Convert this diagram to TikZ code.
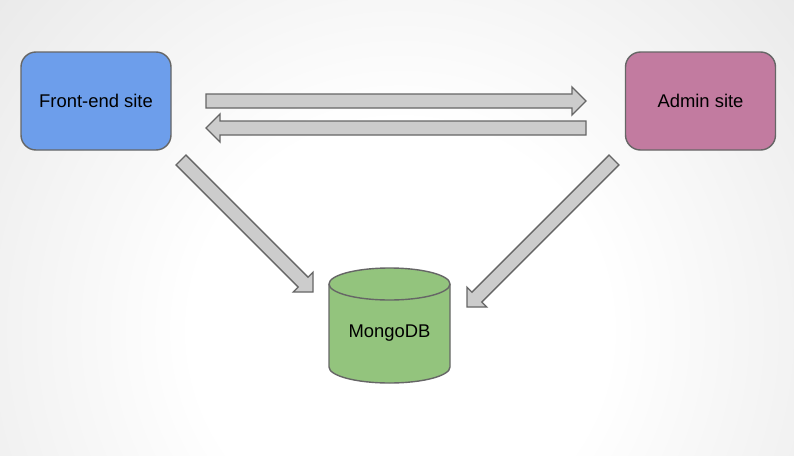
\documentclass[tikz,border=0pt]{standalone}
\usepackage{fontspec}
\setmainfont{Liberation Sans}
\usetikzlibrary{calc}
\definecolor{feblue}{HTML}{6D9EEB}
\definecolor{adpink}{HTML}{C27BA0}
\definecolor{dbgreen}{HTML}{93C47D}
\definecolor{arrfill}{HTML}{CCCCCC}
\definecolor{edge}{HTML}{666666}
\pgfdeclareradialshading{bgshade}{\pgfpoint{0bp}{0bp}}{color(0bp)=(white); color(10bp)=(white); color(50bp)=(black!22); color(60bp)=(black!24)}
\newcommand\fatarrow[2]{%
  \path ($(#2)!14pt!(#1)$) coordinate (hb);
  \draw[fatarr] ($(#1)!7pt!90:(#2)$) -- ($(hb)!7pt!-90:(#1)$) -- ($(hb)!14pt!-90:(#1)$) -- (#2)
    -- ($(hb)!14pt!90:(#1)$) -- ($(hb)!7pt!90:(#1)$) -- ($(#1)!7pt!-90:(#2)$) -- cycle;}
\tikzset{
  box/.style={draw=edge, line width=1.4pt, rounded corners=15pt, minimum width=150pt, minimum height=98pt, inner sep=0pt, font=\fontsize{18.4}{22}\selectfont, text=black},
  fatarr/.style={draw=edge, fill=arrfill, line width=1.3pt, line join=miter},
  dbshape/.style={draw=edge, fill=dbgreen, line width=1.4pt},
}
\begin{document}
\begin{tikzpicture}[x=1pt,y=-1pt]
\useasboundingbox (0,0) rectangle (794,455);
\begin{scope}
  \clip (0,0) rectangle (794,455);
  \shade[shading=bgshade] (400,330) circle (520);
\end{scope}
% boxes
\node[box, fill=feblue] (fe) at (96,101) {Front-end site};
\node[box, fill=adpink] (ad) at (700.5,101) {Admin site};
% cylinder
\draw[dbshape] (329,284) -- (329,367) arc[start angle=180, end angle=0, x radius=60.5, y radius=16]
  -- (450,284) arc[start angle=0, end angle=-180, x radius=60.5, y radius=16] -- cycle;
\draw[dbshape, fill=none] (329,284) arc[start angle=180, end angle=0, x radius=60.5, y radius=16];
\node[font=\fontsize{18.4}{22}\selectfont, text=black, minimum width=121pt, minimum height=115pt] (db) at (389.5,333) {MongoDB};
% connector end points
\coordinate (a1s) at (206,101);
\coordinate (a1e) at (586,101);
\coordinate (a2s) at (586,128);
\coordinate (a2e) at (206,128);
\coordinate (a3s) at (181,160);
\coordinate (a3e) at (313,292);
\coordinate (a4s) at (614,160);
\coordinate (a4e) at (467,307);
\fatarrow{a1s}{a1e}
\fatarrow{a2s}{a2e}
\fatarrow{a3s}{a3e}
\fatarrow{a4s}{a4e}
\end{tikzpicture}
\end{document}
